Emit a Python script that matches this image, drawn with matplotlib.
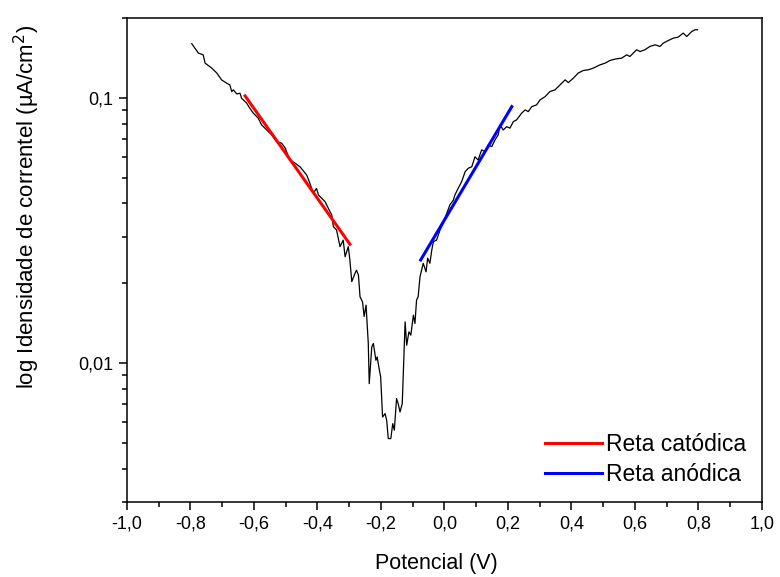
import numpy as np
import matplotlib
matplotlib.use('Agg')
import matplotlib.pyplot as plt
from matplotlib.ticker import FuncFormatter, MultipleLocator, LogLocator, NullFormatter

plt.rcParams['font.family'] = ['Liberation Sans', 'DejaVu Sans']

# curva de polarização
potencial = [-0.796, -0.786, -0.775, -0.760, -0.754, -0.733, -0.717, -0.702, -0.686, -0.676,
             -0.670, -0.665, -0.654, -0.644, -0.639, -0.623, -0.613, -0.603, -0.587, -0.576,
             -0.560, -0.544, -0.529, -0.513, -0.502, -0.487, -0.471, -0.455, -0.434, -0.424,
             -0.413, -0.403, -0.397, -0.376, -0.366, -0.355, -0.350, -0.340, -0.329, -0.319,
             -0.313, -0.303, -0.298, -0.292, -0.282, -0.277, -0.271, -0.266, -0.258, -0.253,
             -0.247, -0.240, -0.237, -0.229, -0.224, -0.216, -0.212, -0.205, -0.201, -0.195,
             -0.187, -0.182, -0.177, -0.169, -0.163, -0.158, -0.151, -0.146, -0.140, -0.133,
             -0.124, -0.119, -0.112, -0.106, -0.098, -0.093, -0.088, -0.083, -0.077, -0.067,
             -0.058, -0.053, -0.046, -0.040, -0.035, -0.025, -0.014, -0.004, 0.007, 0.017,
             0.028, 0.033, 0.043, 0.054, 0.065, 0.075, 0.086, 0.096, 0.106, 0.117,
             0.128, 0.138, 0.149, 0.159, 0.169, 0.175, 0.185, 0.196, 0.206, 0.217,
             0.227, 0.243, 0.254, 0.264, 0.275, 0.290, 0.301, 0.317, 0.332, 0.348,
             0.364, 0.380, 0.390, 0.406, 0.421, 0.437, 0.453, 0.469, 0.490, 0.506,
             0.521, 0.537, 0.558, 0.574, 0.584, 0.605, 0.616, 0.631, 0.647, 0.663,
             0.679, 0.689, 0.705, 0.721, 0.736, 0.752, 0.763, 0.779, 0.789, 0.797]
corrente = [0.160, 0.154, 0.1475, 0.1453, 0.1352, 0.1295, 0.124, 0.1169, 0.1136, 0.1119,
            0.1056, 0.1072, 0.1035, 0.1041, 0.0997, 0.0955, 0.0914, 0.0878, 0.0840, 0.0791,
            0.0757, 0.0725, 0.0684, 0.0675, 0.0648, 0.0583, 0.0568, 0.0550, 0.0512, 0.0477,
            0.0437, 0.0456, 0.0431, 0.0406, 0.0384, 0.0362, 0.0327, 0.0318, 0.0275, 0.0291,
            0.0252, 0.0275, 0.0245, 0.0203, 0.0218, 0.0224, 0.0215, 0.0178, 0.0170, 0.0150,
            0.01656, 0.01187, 0.00838, 0.01152, 0.01187, 0.01026, 0.01056, 0.00941, 0.00888, 0.00627,
            0.00646, 0.00609, 0.0052, 0.0052, 0.00592, 0.00559, 0.00736, 0.00705, 0.00655, 0.00705,
            0.01432, 0.01169, 0.01313, 0.01276, 0.01518, 0.01412, 0.01729, 0.0178, 0.0212, 0.0238,
            0.0221, 0.0249, 0.0238, 0.0267, 0.0287, 0.0291, 0.0318, 0.0337, 0.0367, 0.0395,
            0.0412, 0.0431, 0.0456, 0.0483, 0.0527, 0.0543, 0.0550, 0.0600, 0.0583, 0.0637,
            0.0627, 0.0665, 0.0655, 0.0694, 0.0725, 0.0791, 0.0757, 0.0779, 0.0769, 0.0814,
            0.0826, 0.0876, 0.0901, 0.0888, 0.0927, 0.0941, 0.0983, 0.1011, 0.1056, 0.1072,
            0.1119, 0.1169, 0.1142, 0.1187, 0.1240, 0.1268, 0.1276, 0.1295, 0.1332, 0.1352,
            0.1383, 0.1400, 0.1412, 0.1453, 0.1432, 0.1518, 0.1495, 0.1518, 0.1562, 0.1585,
            0.1562, 0.1608, 0.1645, 0.168, 0.1694, 0.1754, 0.1703, 0.178, 0.1806, 0.1806]

# retas de Tafel
reta_catodica_x = [-0.628, -0.298]
reta_catodica_y = [0.1017, 0.0281]
reta_anodica_x = [-0.075, 0.212]
reta_anodica_y = [0.0245, 0.0927]

fig = plt.figure(figsize=(7.8, 5.77), dpi=100)
ax = fig.add_axes([0.1628, 0.13, 0.8141, 0.8388])

ax.plot(potencial, corrente, color='black', linewidth=0.9)
ax.plot(reta_catodica_x, reta_catodica_y, color='red', linewidth=2.2, label='Reta catódica')
ax.plot(reta_anodica_x, reta_anodica_y, color='blue', linewidth=2.2, label='Reta anódica')

ax.set_yscale('log')
ax.set_xlim(-1.0, 1.0)
ax.set_ylim(0.003, 0.2)

def virgula(v, pos):
    return f'{v:.1f}'.replace('.', ',')

def virgula_log(v, pos):
    s = f'{v:.10f}'.rstrip('0').rstrip('.')
    return s.replace('.', ',')

ax.xaxis.set_major_locator(MultipleLocator(0.2))
ax.xaxis.set_minor_locator(MultipleLocator(0.1))
ax.xaxis.set_major_formatter(FuncFormatter(virgula))
ax.yaxis.set_major_locator(LogLocator(base=10, numticks=10))
ax.yaxis.set_minor_locator(LogLocator(base=10, subs=np.arange(2, 10), numticks=10))
ax.yaxis.set_major_formatter(FuncFormatter(virgula_log))
ax.yaxis.set_minor_formatter(NullFormatter())

ax.tick_params(which='major', direction='out', length=6, width=1.1, labelsize=13,
               top=False, right=False, pad=4)
ax.tick_params(which='minor', direction='out', length=3.5, width=1.1, top=False, right=False)
for s in ax.spines.values():
    s.set_linewidth(1.1)

ax.set_xlabel('Potencial (V)', fontsize=15.5)
ax.set_ylabel('log Idensidade de correntel (µA/cm$^2$)', fontsize=16)
ax.xaxis.set_label_coords(0.488, -0.105)
ax.yaxis.set_label_coords(-0.134, 0.61)

ax.legend(loc='lower right', frameon=False, fontsize=16.5, handlelength=2.5,
          handletextpad=0.15, labelspacing=0.3, borderaxespad=0.3)

fig.savefig('out.png', dpi=100)
